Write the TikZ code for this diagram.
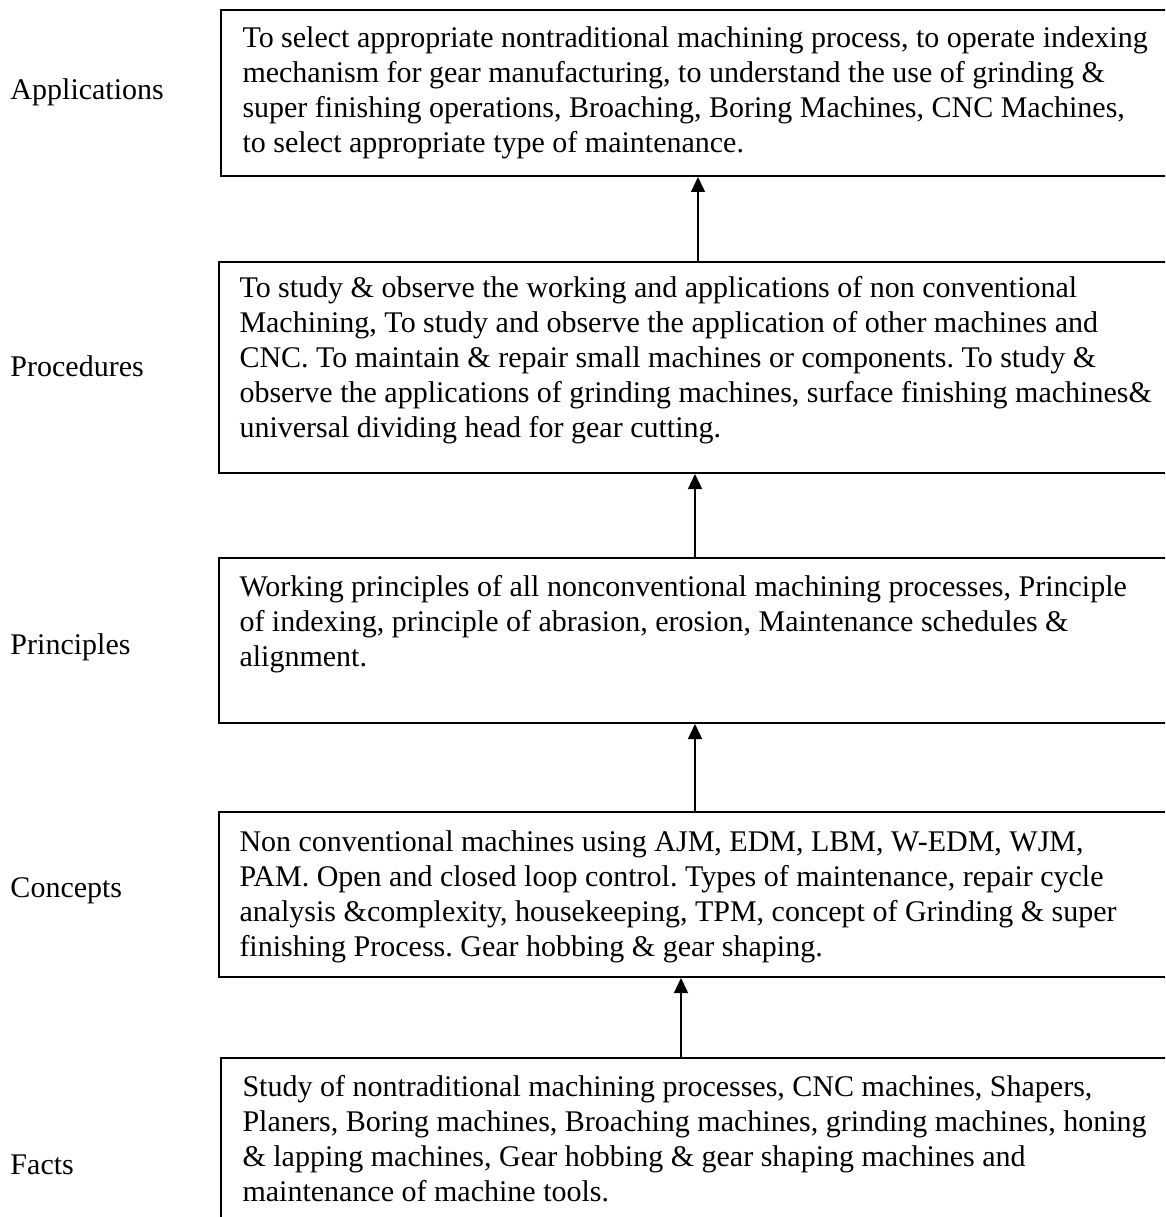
\documentclass[tikz,border=0pt]{standalone}
\usepackage{fontspec}
\setmainfont{Liberation Serif}
\usetikzlibrary{arrows.meta}
\frenchspacing
\begin{document}
\begin{tikzpicture}[x=0.4pt,y=-0.4pt,
  box/.style={draw,line width=0.8pt,anchor=north west,minimum width=384pt,inner sep=0pt},
  txt/.style={anchor=base west,align=left,inner sep=0pt,font=\fontsize{12}{14}\selectfont},
  lbl/.style={anchor=base west,inner sep=0pt,font=\fontsize{12}{14}\selectfont},
  arr/.style={draw,line width=0.6pt,-{Triangle[length=6pt,width=5.6pt]}}]
\useasboundingbox (0,0) rectangle (1165,1217);
\clip (0,0) rectangle (1165,1217);

% levels on the left
\node[lbl] (l1) at (10,100) {Applications};
\node[lbl] (l2) at (10,377) {Procedures};
\node[lbl] (l3) at (10,654) {Principles};
\node[lbl] (l4) at (10,897) {Concepts};
\node[lbl] (l5) at (10,1174) {Facts};

% boxes
\node[box,minimum height=66.4pt] (apps) at (220,9) {};
\node[box,minimum height=84.4pt] (procs) at (218,261) {};
\node[box,minimum height=66pt] (princ) at (218,557) {};
\node[box,minimum height=66pt] (conc) at (218,811) {};
\node[box,minimum height=90pt] (facts) at (220,1057) {};

% texts (base = last line)
\node[txt] (t1) at (242,153) {To select appropriate nontraditional machining process, to operate indexing\\
mechanism for gear manufacturing, to understand the use of grinding \&\\
super finishing operations, Broaching, Boring Machines, CNC Machines,\\
to select appropriate type of maintenance.};
\node[txt] (t2) at (239,438) {To study \& observe the working and applications of non conventional\\
Machining, To study and observe the application of other machines and\\
CNC. To maintain \& repair small machines or components. To study \&\\
observe the applications of grinding machines, surface finishing machines\&\\
universal dividing head for gear cutting.};
\node[txt] (t3) at (239,666) {Working principles of all nonconventional machining processes, Principle\\
of indexing, principle of abrasion, erosion, Maintenance schedules \&\\
alignment.};
\node[txt] (t4) at (239,956) {Non conventional machines using AJM, EDM, LBM, W-EDM, WJM,\\
PAM. Open and closed loop control. Types of maintenance, repair cycle\\
analysis \&complexity, housekeeping, TPM, concept of Grinding \& super\\
finishing Process. Gear hobbing \& gear shaping.};
\node[txt] (t5) at (242,1201) {Study of nontraditional machining processes, CNC machines, Shapers,\\
Planers, Boring machines, Broaching machines, grinding machines, honing\\
\& lapping machines, Gear hobbing \& gear shaping machines and\\
maintenance of machine tools.};

% arrows
\path[arr] (698,0 |- procs.north) -- (698,0 |- apps.south);
\path[arr] (695,0 |- princ.north) -- (695,0 |- procs.south);
\path[arr] (695,0 |- conc.north) -- (695,0 |- princ.south);
\path[arr] (681,0 |- facts.north) -- (681,0 |- conc.south);
\end{tikzpicture}
\end{document}
